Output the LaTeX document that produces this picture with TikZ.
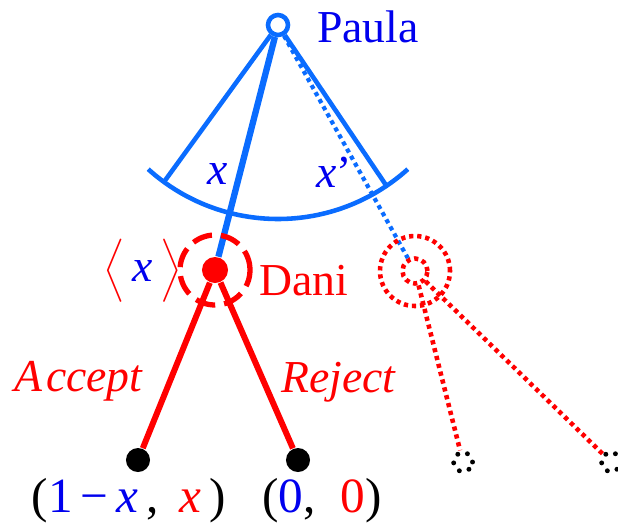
\documentclass[tikz,border=0pt]{standalone}
\usepackage{fontspec}
\setmainfont{Liberation Serif}
\usepackage{tikz}
\usetikzlibrary{positioning, calc}
\definecolor{PaulaBlue}{HTML}{0A6CFF}
\definecolor{PaulaInk}{HTML}{0000EE}
\definecolor{DaniRed}{HTML}{FF0000}

\begin{document}
\begin{tikzpicture}[x=0.01cm, y=0.01cm,
  lbl/.style={font=\fontsize{13}{15}\selectfont},
  pay/.style={font=\fontsize{14}{16}\selectfont},
  move/.style={PaulaBlue, line width=1.3pt},
  reddots/.style={DaniRed, line width=1.3pt, dash pattern=on 1.2pt off 1.1pt},
  leaf/.style={circle, fill=black, inner sep=0pt, minimum size=0.24cm},
  ghostleaf/.style={circle, draw=black, line width=1.4pt, line cap=round, dash pattern=on 0pt off 2.9pt, inner sep=0pt, minimum size=0.19cm}]
  \useasboundingbox (0,0) rectangle (618,523);
  % decision nodes
  \node[circle, draw=PaulaBlue, fill=white, line width=1.3pt, inner sep=0pt, minimum size=0.2cm] (paula) at (278,498) {};
  \node[circle, fill=DaniRed, inner sep=0pt, minimum size=0.26cm] (dani) at (215,253) {};
  \node[circle, draw, reddots, inner sep=0pt, minimum size=0.25cm] (ghost) at (415,252) {};
  \node[leaf] (acc) at (138,63) {};
  \node[leaf] (rej) at (298,63) {};
  \node[ghostleaf] (gacc) at (463,61) {};
  \node[ghostleaf] (grej) at (611,61) {};
  % Paula's range of offers
  \coordinate (rayL) at ($(paula.center)+(234:195)$);
  \coordinate (rayR) at ($(paula.center)+(304:195)$);
  \draw[move] (paula) -- (rayL);
  \draw[move] (paula) -- (rayR);
  \draw[move] ($(paula.center)+(228:194)$) arc[start angle=228, end angle=312, radius=194];
  \draw[PaulaBlue, line width=1.8pt] (paula) -- (dani);
  \draw[PaulaBlue, line width=1.2pt, dash pattern=on 1.2pt off 1.1pt] (paula) -- (ghost);
  % information sets
  \draw[DaniRed, line width=1.5pt, dash pattern=on 0.2cm off 0.09cm] (dani.center) circle[radius=35];
  \draw[reddots] (ghost.center) circle[radius=35];
  % Dani's replies
  \draw[DaniRed, line width=1.7pt] (dani) -- (acc);
  \draw[DaniRed, line width=1.7pt] (dani) -- (rej);
  \draw[reddots] (ghost) -- (gacc);
  \draw[reddots] (ghost) -- (grej);
  % labels
  \node[lbl, PaulaInk] (paulalbl) at (368,496) {Paula};
  \node[lbl, DaniRed] (danilbl) at (304,242) {Dani};
  \node[lbl, DaniRed] (offer) at (143,252) {$\Big\langle$\,\textcolor{PaulaInk}{\textit{x}}\,$\Big\rangle$};
  \node[lbl, PaulaInk] (xlbl) at (218,349) {\textit{x}};
  \node[lbl, PaulaInk] (xplbl) at (334,351) {\textit{x}\textquoteright};
  \node[lbl, DaniRed] (acclbl) at (79,142) {\textit{A\kern1pt ccept}};
  \node[lbl, DaniRed] (rejlbl) at (339,141) {\textit{Reject}};
  \node[pay] (accpay) at (129,22) {(\textcolor{PaulaInk}{1\,−\,\textit{x}}\,, \,\textcolor{DaniRed}{\textit{x}}\,)};
  \node[pay] (rejpay) at (322,22) {(\textcolor{PaulaInk}{0},\ \ \textcolor{DaniRed}{0})};
\end{tikzpicture}
\end{document}
